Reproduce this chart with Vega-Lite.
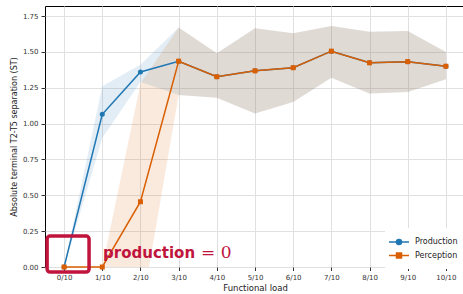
{
  "$schema": "https://vega.github.io/schema/vega-lite/v6.json",
  "width": 420,
  "height": 261,
  "autosize": "none",
  "padding": {"left": 45, "top": 6, "right": 0, "bottom": 27},
  "background": "white",
  "config": {
    "font": "DejaVu Sans",
    "view": {"stroke": "#000", "strokeWidth": 1},
    "axis": {
      "domain": false,
      "grid": true,
      "gridColor": "#e0e0e0",
      "gridWidth": 1,
      "tickColor": "#333",
      "tickSize": 3.5,
      "labelFontSize": 7,
      "labelColor": "#333",
      "labelPadding": 2.5,
      "labelOverlap": false,
      "titleFontWeight": "normal",
      "titleColor": "#222"
    }
  },
  "datasets": {
    "series": [
      {"series": "Production", "x": 0, "y": 0, "lo": 0, "hi": 0},
      {"series": "Production", "x": 1, "y": 1.065, "lo": 0.9, "hi": 1.26},
      {"series": "Production", "x": 2, "y": 1.36, "lo": 1.29, "hi": 1.41},
      {"series": "Production", "x": 3, "y": 1.435, "lo": 1.2, "hi": 1.67},
      {"series": "Production", "x": 4, "y": 1.327, "lo": 1.18, "hi": 1.49},
      {"series": "Production", "x": 5, "y": 1.368, "lo": 1.07, "hi": 1.665},
      {"series": "Production", "x": 6, "y": 1.39, "lo": 1.15, "hi": 1.63},
      {"series": "Production", "x": 7, "y": 1.505, "lo": 1.32, "hi": 1.68},
      {"series": "Production", "x": 8, "y": 1.424, "lo": 1.21, "hi": 1.64},
      {"series": "Production", "x": 9, "y": 1.432, "lo": 1.22, "hi": 1.645},
      {"series": "Production", "x": 10, "y": 1.4, "lo": 1.31, "hi": 1.5},
      {"series": "Perception", "x": 0, "y": 0, "lo": 0, "hi": 0},
      {"series": "Perception", "x": 1, "y": 0, "lo": 0, "hi": 0},
      {"series": "Perception", "x": 2, "y": 0.455, "lo": -0.35, "hi": 1.28},
      {"series": "Perception", "x": 3, "y": 1.435, "lo": 1.2, "hi": 1.67},
      {"series": "Perception", "x": 4, "y": 1.327, "lo": 1.18, "hi": 1.49},
      {"series": "Perception", "x": 5, "y": 1.368, "lo": 1.07, "hi": 1.665},
      {"series": "Perception", "x": 6, "y": 1.39, "lo": 1.15, "hi": 1.63},
      {"series": "Perception", "x": 7, "y": 1.505, "lo": 1.32, "hi": 1.68},
      {"series": "Perception", "x": 8, "y": 1.424, "lo": 1.21, "hi": 1.64},
      {"series": "Perception", "x": 9, "y": 1.432, "lo": 1.22, "hi": 1.645},
      {"series": "Perception", "x": 10, "y": 1.4, "lo": 1.31, "hi": 1.5}
    ]
  },
  "resolve": {"axis": {"y": "shared"}},
  "layer": [
    {
      "data": {"name": "series"},
      "transform": [{"filter": "datum.series === 'Production'"}],
      "mark": {"type": "area", "opacity": 0.13, "clip": true},
      "encoding": {
        "x": {
          "field": "x", "type": "quantitative",
          "scale": {"domain": [-0.5, 10.5], "nice": false, "zero": false},
          "axis": {
            "title": "Functional load", "titleFontSize": 8.5, "titlePadding": 3,
            "values": [0, 1, 2, 3, 4, 5, 6, 7, 8, 9, 10],
            "labelExpr": "datum.value + '/10'"
          }
        },
        "y": {
          "field": "lo", "type": "quantitative",
          "scale": {"domain": [0, 1.82], "nice": false, "zero": false},
          "axis": {
            "title": "Absolute terminal T2-T5 separation (ST)", "titleFontSize": 8,
            "values": [0, 0.25, 0.5, 0.75, 1, 1.25, 1.5, 1.75],
            "tickCount": 8,
            "format": ".2f",
            "labelPadding": 3, "tickSize": 4
          }
        },
        "y2": {"field": "hi"},
        "color": {
          "field": "series", "type": "nominal",
          "scale": {"domain": ["Production", "Perception"], "range": ["#1f77b4", "#d95f02"]},
          "legend": {
            "title": null,
            "orient": "none",
            "legendX": 340,
            "legendY": 222,
            "fillColor": "white",
            "padding": 8,
            "labelFontSize": 8,
            "labelColor": "#222",
            "labelOffset": 10,
            "symbolSize": 100,
            "rowPadding": 1.5,
            "symbolStrokeWidth": 1.5,
            "symbolOpacity": 1,
            "encode": {
              "symbols": {
                "update": {
                  "shape": {"signal": "datum.value === 'Production' ? 'M-2,0H2M0.5,0A0.5,0.5 0 1,0 -0.5,0A0.5,0.5 0 1,0 0.5,0Z' : 'M-2,0H2M-0.5,-0.5H0.5V0.5H-0.5Z'"},
                  "fill": {"signal": "datum.value === 'Production' ? '#1f77b4' : '#d95f02'"},
                  "stroke": {"signal": "datum.value === 'Production' ? '#1f77b4' : '#d95f02'"},
                  "strokeWidth": {"value": 1.5},
                  "opacity": {"value": 1},
                  "fillOpacity": {"value": 1},
                  "strokeOpacity": {"value": 1}
                }
              }
            }
          }
        }
      }
    },
    {
      "data": {"name": "series"},
      "transform": [{"filter": "datum.series === 'Perception'"}],
      "mark": {"type": "area", "opacity": 0.13, "clip": true},
      "encoding": {
        "x": {"field": "x", "type": "quantitative"},
        "y": {"field": "lo", "type": "quantitative", "axis": {"title": "Absolute terminal T2-T5 separation (ST)", "values": [0, 0.25, 0.5, 0.75, 1, 1.25, 1.5, 1.75], "tickCount": 8}},
        "y2": {"field": "hi"},
        "color": {"field": "series", "type": "nominal"}
      }
    },
    {
      "data": {"name": "series"},
      "transform": [{"filter": "datum.series === 'Production'"}],
      "mark": {"type": "line", "strokeWidth": 1.5},
      "encoding": {
        "x": {"field": "x", "type": "quantitative"},
        "y": {"field": "y", "type": "quantitative", "axis": {"title": "Absolute terminal T2-T5 separation (ST)", "values": [0, 0.25, 0.5, 0.75, 1, 1.25, 1.5, 1.75], "tickCount": 8}},
        "color": {"field": "series", "type": "nominal"}
      }
    },
    {
      "data": {"name": "series"},
      "transform": [{"filter": "datum.series === 'Production'"}],
      "mark": {"type": "point", "filled": true, "shape": "circle", "size": 25, "opacity": 1},
      "encoding": {
        "x": {"field": "x", "type": "quantitative"},
        "y": {"field": "y", "type": "quantitative", "axis": {"title": "Absolute terminal T2-T5 separation (ST)", "values": [0, 0.25, 0.5, 0.75, 1, 1.25, 1.5, 1.75], "tickCount": 8}},
        "color": {"field": "series", "type": "nominal"}
      }
    },
    {
      "data": {"name": "series"},
      "transform": [{"filter": "datum.series === 'Perception'"}],
      "mark": {"type": "line", "strokeWidth": 1.5},
      "encoding": {
        "x": {"field": "x", "type": "quantitative"},
        "y": {"field": "y", "type": "quantitative", "axis": {"title": "Absolute terminal T2-T5 separation (ST)", "values": [0, 0.25, 0.5, 0.75, 1, 1.25, 1.5, 1.75], "tickCount": 8}},
        "color": {"field": "series", "type": "nominal"}
      }
    },
    {
      "data": {"name": "series"},
      "transform": [{"filter": "datum.series === 'Perception'"}],
      "mark": {"type": "point", "filled": true, "shape": "square", "size": 25, "opacity": 1},
      "encoding": {
        "x": {"field": "x", "type": "quantitative"},
        "y": {"field": "y", "type": "quantitative", "axis": {"title": "Absolute terminal T2-T5 separation (ST)", "values": [0, 0.25, 0.5, 0.75, 1, 1.25, 1.5, 1.75], "tickCount": 8}},
        "color": {"field": "series", "type": "nominal"}
      }
    },
    {
      "data": {"values": [{"x1": -0.445, "x2": 0.654, "y1": -0.035, "y2": 0.216}]},
      "mark": {"type": "rect", "fill": null, "fillOpacity": 0, "stroke": "#c0143c", "strokeWidth": 3.5, "cornerRadius": 3},
      "encoding": {
        "x": {"field": "x1", "type": "quantitative"},
        "x2": {"field": "x2"},
        "y": {"field": "y1", "type": "quantitative", "axis": {"title": "Absolute terminal T2-T5 separation (ST)", "values": [0, 0.25, 0.5, 0.75, 1, 1.25, 1.5, 1.75], "tickCount": 8}},
        "y2": {"field": "y2"}
      }
    },
    {
      "data": {"values": [{"x": 1.02, "y": 0.063, "label": "production"}]},
      "mark": {"type": "text", "align": "left", "baseline": "alphabetic", "font": "DejaVu Sans", "fontWeight": "bold", "fontSize": 15, "color": "#c0143c"},
      "encoding": {
        "x": {"field": "x", "type": "quantitative"},
        "y": {"field": "y", "type": "quantitative", "axis": {"title": "Absolute terminal T2-T5 separation (ST)", "values": [0, 0.25, 0.5, 0.75, 1, 1.25, 1.5, 1.75], "tickCount": 8}},
        "text": {"field": "label"}
      }
    },
    {
      "data": {"values": [{"x": 3.586, "y": 0.063, "label": "= 0"}]},
      "mark": {"type": "text", "align": "left", "baseline": "alphabetic", "font": "DejaVu Serif", "fontSize": 17, "color": "#c0143c"},
      "encoding": {
        "x": {"field": "x", "type": "quantitative"},
        "y": {"field": "y", "type": "quantitative", "axis": {"title": "Absolute terminal T2-T5 separation (ST)", "values": [0, 0.25, 0.5, 0.75, 1, 1.25, 1.5, 1.75], "tickCount": 8}},
        "text": {"field": "label"}
      }
    }
  ]
}
